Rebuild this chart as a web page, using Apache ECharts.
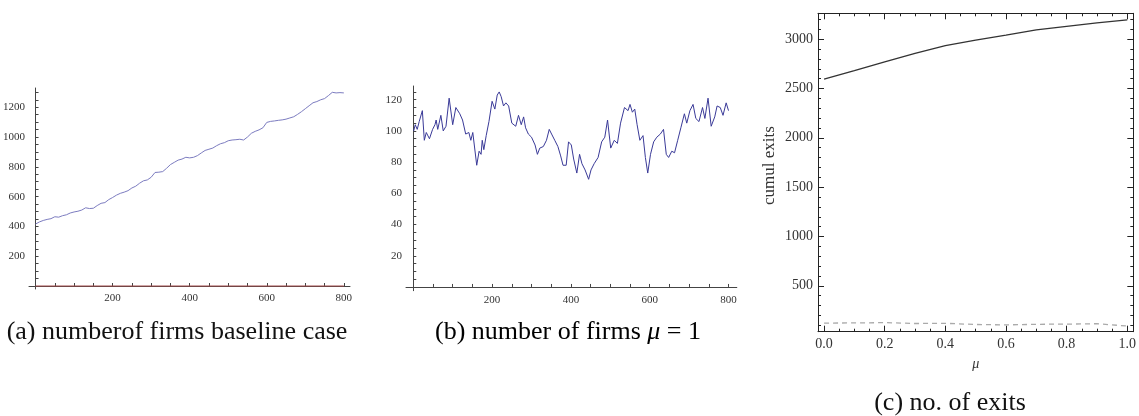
<!DOCTYPE html>
<html><head><meta charset="utf-8">
<script src="https://cdn.jsdelivr.net/npm/echarts@6/dist/echarts.min.js"></script>
<style>html,body{margin:0;padding:0;background:#fff}#c{width:1139px;height:416px}</style>
</head><body><div id="c"></div>
<script>
// ---------- data (a): number of firms, baseline case ----------
const stepsA = [0,10,20,30,40,50,60,70,80,90,100,110,120,130,140,150,160,170,180,190,200,210,220,230,240,250,260,270,280,290,300,310,320,330,340,350,360,370,380,390,400,410,420,430,440,450,460,470,480,490,500,510,520,530,540,550,560,570,580,590,600,610,620,630,640,650,660,670,680,690,700,710,720,730,740,750,760,770,780,790,800];
const firmsA = [416,430,440,447,452,465,462,472,478,490,497,502,510,525,520,522,540,555,560,580,594,610,622,630,640,658,670,690,706,712,730,762,764,768,790,815,830,845,852,864,860,864,875,893,910,918,926,942,955,962,975,980,982,985,980,1000,1025,1038,1048,1062,1098,1105,1108,1112,1115,1120,1128,1136,1152,1170,1190,1210,1230,1238,1250,1258,1278,1300,1296,1298,1296];
const zeroStepsA = [0,800];
const zeroValsA = [0,0];
// ---------- data (b): number of firms, mu = 1 ----------
const stepsB = [1,5,10,15,23,28,33,41,49,55,58,62,70,76,83,91,100,108,118,125,133,141,146,151,161,167,172,175,179,185,192,200,207,213,218,223,229,235,242,250,254,260,267,274,280,285,292,300,309,315,321,330,338,345,351,359,367,374,380,388,394,401,407,415,422,428,436,445,451,459,469,478,486,493,501,510,518,526,536,545,550,556,562,568,575,583,589,595,602,610,618,627,635,642,648,656,663,671,679,688,694,702,710,717,725,734,740,748,756,765,771,779,786,794,800];
const firmsB = [100,104,101,106,113,94,99,95,101,104,107,101,110,100,103,121,104,115,111,107,98,99,94,99,78,87,85,94,88,97,106,119,114,123,125,122,116,118,116,105,106,103,110,104,109,102,98,96,91,85,89,90,94,101,98,94,90,84,78,78,93,91,82,73,85,79,75,69,75,79,83,93,96,107,89,94,92,105,115,113,117,112,114,104,94,97,83,73,85,93,96,98,101,85,83,87,86,94,102,111,105,113,117,108,106,115,108,121,103,109,116,115,110,118,113];
// ---------- data (c): cumulative exits vs mu ----------
const mu = [0,0.1,0.2,0.3,0.4,0.5,0.6,0.7,0.8,0.9,1.0];
const exitsSolid = [2595,2680,2770,2855,2935,2990,3040,3094,3130,3165,3196];
const exitsDashed = [122,124,127,118,120,108,104,110,112,116,92];
// ---------- tick labels ----------
const stepTickLabels = [200,400,600,800];
const stepMinorTicks = [50,100,150,200,250,300,350,400,450,500,550,600,650,700,750,800];
const firmsATickLabels = [200,400,600,800,1000,1200];
const firmsAMinorTicks = [50,100,150,200,250,300,350,400,450,500,550,600,650,700,750,800,850,900,950,1000,1050,1100,1150,1200,1250,1300];
const firmsBTickLabels = [20,40,60,80,100,120];
const firmsBMinorTicks = [5,10,15,20,25,30,35,40,45,50,55,60,65,70,75,80,85,90,95,100,105,110,115,120,125];
const muTickLabels = [0,0.2,0.4,0.6,0.8,1.0];
const muMinorTicks = [0.05,0.1,0.15,0.25,0.3,0.35,0.45,0.5,0.55,0.65,0.7,0.75,0.85,0.9,0.95];
const exitsTickLabels = [500,1000,1500,2000,2500,3000];
const exitsMinorTicks = [100,200,300,400,600,700,800,900,1100,1200,1300,1400,1600,1700,1800,1900,2100,2200,2300,2400,2600,2700,2800,2900,3100,3200];

const pairs = (xs, ys) => xs.map((x, i) => [x, ys[i]]);
const SERIF = 'Liberation Serif';
const axisCol = '#444';
const plain = v => String(v);

function smallAxis(grid, min, max, ticks, labels, extra) {
  return Object.assign({
    gridIndex: grid, type: 'value', min: min, max: max,
    axisLine: { show: true, onZero: true, lineStyle: { color: axisCol, width: 1 } },
    axisTick: { show: true, inside: true, length: 3, customValues: ticks, lineStyle: { color: axisCol } },
    axisLabel: { customValues: labels, fontFamily: SERIF, fontSize: 11, color: '#333', margin: 4, formatter: plain },
    splitLine: { show: false }
  }, extra || {});
}
function frameAxis(grid, pos, min, max, ticks, len, labels, showLine, extra) {
  return Object.assign({
    gridIndex: grid, type: 'value', position: pos, min: min, max: max,
    axisLine: { show: showLine, onZero: false, lineStyle: { color: '#222', width: 1 } },
    axisTick: { show: true, inside: true, length: len, customValues: ticks, lineStyle: { color: '#222' } },
    axisLabel: labels ? { customValues: labels, fontFamily: SERIF, fontSize: 14, color: '#333', margin: 5, formatter: plain } : { show: false },
    splitLine: { show: false }
  }, extra || {});
}

const chart = echarts.init(document.getElementById('c'), null, { renderer: 'canvas' });
chart.setOption({
  animation: false,
  backgroundColor: '#fff',
  grid: [
    { left: 25.1, top: 88, width: 324.9, height: 201 },
    { left: 406, top: 86, width: 330.8, height: 204.7 },
    { left: 818, top: 13.3, width: 319.3, height: 318.4 }
  ],
  xAxis: [
    smallAxis(0, -17, 816, stepMinorTicks, stepTickLabels),
    smallAxis(1, -18.5, 821, stepMinorTicks, stepTickLabels),
    frameAxis(2, 'bottom', -0.02, 1.02, muTickLabels, 6, muTickLabels, true, {
      name: 'μ', nameLocation: 'middle', nameGap: 26,
      nameTextStyle: { fontFamily: SERIF, fontStyle: 'italic', fontSize: 14, color: '#333' },
      axisLabel: { customValues: muTickLabels, fontFamily: SERIF, fontSize: 14, color: '#333', margin: 6, formatter: v => v.toFixed(1) }
    }),
    frameAxis(2, 'bottom', -0.02, 1.02, muMinorTicks, 3, null, false),
    frameAxis(2, 'top', -0.02, 1.02, muTickLabels, 6, null, true),
    frameAxis(2, 'top', -0.02, 1.02, muMinorTicks, 3, null, false)
  ],
  yAxis: [
    smallAxis(0, -20, 1329, firmsAMinorTicks, firmsATickLabels),
    smallAxis(1, -2.4, 128.8, firmsBMinorTicks, firmsBTickLabels),
    frameAxis(2, 'left', 35, 3262, exitsTickLabels, 6, exitsTickLabels, true, {
      name: 'cumul exits', nameLocation: 'middle', nameGap: 40, nameRotate: 90,
      nameTextStyle: { fontFamily: SERIF, fontSize: 17, color: '#333', padding: [0, 0, 0, 14] }
    }),
    frameAxis(2, 'left', 35, 3262, exitsMinorTicks, 3, null, false),
    frameAxis(2, 'right', 35, 3262, exitsTickLabels, 6, null, true),
    frameAxis(2, 'right', 35, 3262, exitsMinorTicks, 3, null, false)
  ],
  series: [
    { type: 'line', xAxisIndex: 0, yAxisIndex: 0, data: pairs(zeroStepsA, zeroValsA), symbol: 'none',
      lineStyle: { color: '#a04848', width: 1 }, silent: true },
    { type: 'line', xAxisIndex: 0, yAxisIndex: 0, data: pairs(stepsA, firmsA), symbol: 'none',
      lineStyle: { color: '#7c7cc0', width: 1 } },
    { type: 'line', xAxisIndex: 1, yAxisIndex: 1, data: pairs(stepsB, firmsB), symbol: 'none',
      lineStyle: { color: '#3a3a98', width: 1 } },
    { type: 'line', xAxisIndex: 2, yAxisIndex: 2, data: pairs(mu, exitsSolid), symbol: 'none',
      lineStyle: { color: '#333', width: 1.3 } },
    { type: 'line', xAxisIndex: 2, yAxisIndex: 2, data: pairs(mu, exitsDashed), symbol: 'none',
      lineStyle: { color: '#aaa', width: 1.3, type: [5, 4] } }
  ],
  graphic: [
    { type: 'text', x: 177, y: 332, style: { text: '(a) numberof firms baseline case', textAlign: 'center', textVerticalAlign: 'middle',
      font: '26px "Liberation Serif"', fill: '#111' } },
    { type: 'text', x: 568, y: 332, style: { text: '{n|(b) number of firms }{i|μ}{n| = 1}', textAlign: 'center', textVerticalAlign: 'middle',
      rich: { n: { fontFamily: SERIF, fontSize: 26, color: '#111' }, i: { fontFamily: SERIF, fontSize: 26, fontStyle: 'italic', color: '#111' } } } },
    { type: 'text', x: 950, y: 403, style: { text: '(c) no. of exits', textAlign: 'center', textVerticalAlign: 'middle',
      font: '26px "Liberation Serif"', fill: '#111' } }
  ]
});
</script></body></html>
